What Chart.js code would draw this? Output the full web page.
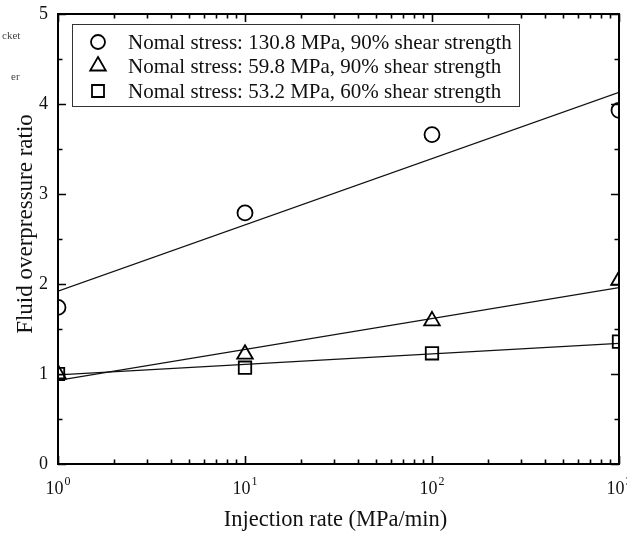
<!DOCTYPE html>
<html>
<head>
<meta charset="utf-8">
<script src="https://cdn.jsdelivr.net/npm/chart.js@4.4.1/dist/chart.umd.min.js"></script>
<style>
  html, body { margin: 0; padding: 0; background: #fff; overflow: hidden; }
  #wrap { position: relative; width: 660px; height: 534px; }
  .frag { position: absolute; font-family: "Liberation Serif", serif; font-size: 11px; color: #444; }
</style>
</head>
<body>
<div id="wrap">
  <canvas id="c" width="660" height="534"></canvas>
  <div class="frag" style="left:2px; top:29px;">cket</div>
  <div class="frag" style="left:11px; top:70px;">er</div>
</div>
<script>
// ---- data ----
const injectionRates = [1, 10, 100, 1000];
const seriesLabels = [
  "Nomal stress: 130.8 MPa, 90% shear strength",
  "Nomal stress: 59.8 MPa, 90% shear strength",
  "Nomal stress: 53.2 MPa, 60% shear strength"
];
const circleRatio   = [1.74, 2.79, 3.66, 3.93];
const triangleRatio = [1.00, 1.22, 1.59, 2.04];
const squareRatio   = [1.00, 1.07, 1.23, 1.36];
const fitX = [1, 1000];
const circleFit   = [1.92, 4.13];
const triangleFit = [0.93, 1.96];
const squareFit   = [0.99, 1.34];
const xTickBase = "10";
const xTickExponents = {1: "0", 10: "1", 100: "2", 1000: "3"};
const yMajorTicks = [0, 1, 2, 3, 4, 5];
const yMinorTicks = [0.5, 1.5, 2.5, 3.5, 4.5];
const xMajorTicks = [1, 10, 100, 1000];
const xMinorTicks = [2,3,4,5,6,7,8,9,20,30,40,50,60,70,80,90,200,300,400,500,600,700,800,900];
const xTitle = "Injection rate (MPa/min)";
const yTitle = "Fluid overpressure ratio";

const pts = (xs, ys) => xs.map((x, i) => ({x: x, y: ys[i]}));

const FONT = "Liberation Serif";
const styles = ["circle", "triangle", "rect"];
const radii = [7.5, 9, 8.8];

const markerDs = (data, i) => ({
  label: seriesLabels[i],
  data: data,
  showLine: false,
  pointStyle: styles[i],
  pointRadius: radii[i],
  pointBorderColor: "#000",
  pointBackgroundColor: "rgba(0,0,0,0)",
  pointBorderWidth: 1.8,
  order: 0
});
const lineDs = (data) => ({
  label: "fit",
  data: data,
  showLine: true,
  borderColor: "#111",
  borderWidth: 1.2,
  pointRadius: 0,
  fill: false,
  order: 1
});

const decoPlugin = {
  id: "deco",
  afterDraw(chart) {
    const ctx = chart.ctx;
    const xs = chart.scales.x, ys = chart.scales.y;
    const a = chart.chartArea;
    ctx.save();
    ctx.strokeStyle = "#000";
    ctx.lineWidth = 1.6;
    const tickX = (v, len) => {
      const px = Math.round(xs.getPixelForValue(v)) + 0.5;
      ctx.beginPath();
      ctx.moveTo(px, a.bottom); ctx.lineTo(px, a.bottom - len);
      ctx.moveTo(px, a.top); ctx.lineTo(px, a.top + len);
      ctx.stroke();
    };
    const tickY = (v, len) => {
      const py = Math.round(ys.getPixelForValue(v)) + 0.5;
      ctx.beginPath();
      ctx.moveTo(a.left, py); ctx.lineTo(a.left + len, py);
      ctx.moveTo(a.right, py); ctx.lineTo(a.right - len, py);
      ctx.stroke();
    };
    xMajorTicks.forEach(v => tickX(v, 8));
    xMinorTicks.forEach(v => tickX(v, 4.5));
    yMajorTicks.forEach(v => tickY(v, 8));
    yMinorTicks.forEach(v => tickY(v, 4.5));
    ctx.lineWidth = 2;
    ctx.strokeRect(a.left, a.top, a.right - a.left, a.bottom - a.top);

    // y tick labels
    ctx.fillStyle = "#111";
    ctx.font = "18px '" + FONT + "'";
    ctx.textAlign = "right";
    ctx.textBaseline = "middle";
    yMajorTicks.forEach(v => {
      ctx.fillText(String(v), a.left - 10, ys.getPixelForValue(v));
    });

    // x tick labels with superscripts
    ctx.textBaseline = "alphabetic";
    ctx.textAlign = "left";
    xMajorTicks.forEach(v => {
      const px = xs.getPixelForValue(v);
      ctx.font = "18px '" + FONT + "'";
      const wb = ctx.measureText(xTickBase).width;
      ctx.font = "12px '" + FONT + "'";
      const we = ctx.measureText(xTickExponents[v]).width;
      const x0 = px - (wb + we + 1) / 2;
      ctx.font = "18px '" + FONT + "'";
      ctx.fillText(xTickBase, x0, a.bottom + 30);
      ctx.font = "12px '" + FONT + "'";
      ctx.fillText(xTickExponents[v], x0 + wb + 1, a.bottom + 21);
    });

    // axis titles
    ctx.textAlign = "center";
    ctx.textBaseline = "middle";
    ctx.font = "22.5px '" + FONT + "'";
    ctx.fillText(xTitle, (a.left + a.right) / 2 - 3, 520);
    ctx.save();
    ctx.translate(26, 224);
    ctx.rotate(-Math.PI / 2);
    ctx.font = "23px '" + FONT + "'";
    ctx.fillText(yTitle, 0, 0);
    ctx.restore();

    // legend
    const box = {l: 72, t: 24, r: 519, b: 106};
    ctx.fillStyle = "#fff";
    ctx.fillRect(box.l, box.t, box.r - box.l, box.b - box.t);
    ctx.lineWidth = 1;
    ctx.strokeStyle = "#333";
    ctx.strokeRect(box.l + 0.5, box.t + 0.5, box.r - box.l, box.b - box.t);
    const rowY = [42, 66, 91];
    const mx = 98, tx = 128;
    ctx.font = "21px '" + FONT + "'";
    ctx.textBaseline = "middle";
    ctx.textAlign = "left";
    ctx.fillStyle = "#111";
    ctx.strokeStyle = "#000";
    ctx.lineWidth = 1.8;
    seriesLabels.forEach((lab, i) => {
      const y = rowY[i];
      ctx.beginPath();
      if (i === 0) {
        ctx.arc(mx, y, 7, 0, Math.PI * 2);
      } else if (i === 1) {
        const r = 9;
        ctx.moveTo(mx, y - r);
        ctx.lineTo(mx + r * Math.sin(Math.PI / 3 * 2), y + r * 0.5);
        ctx.lineTo(mx - r * Math.sin(Math.PI / 3 * 2), y + r * 0.5);
        ctx.closePath();
      } else {
        ctx.rect(mx - 6, y - 6, 12, 12);
      }
      ctx.stroke();
      ctx.fillText(lab, tx, y + 1);
    });
    ctx.restore();
  }
};

new Chart(document.getElementById("c"), {
  type: "scatter",
  data: {
    datasets: [
      lineDs(pts(fitX, circleFit)),
      lineDs(pts(fitX, triangleFit)),
      lineDs(pts(fitX, squareFit)),
      markerDs(pts(injectionRates, circleRatio), 0),
      markerDs(pts(injectionRates, triangleRatio), 1),
      markerDs(pts(injectionRates, squareRatio), 2)
    ]
  },
  options: {
    responsive: false,
    animation: false,
    events: [],
    layout: { padding: { top: 14, right: 41, left: 0, bottom: 0 } },
    plugins: { legend: { display: false }, tooltip: { enabled: false } },
    scales: {
      x: {
        type: "logarithmic",
        min: 1, max: 1000,
        grid: { display: false, drawTicks: false },
        border: { display: false },
        afterFit(s) { s.height = 70; },
        ticks: { display: false }
      },
      y: {
        min: 0, max: 5,
        grid: { display: false, drawTicks: false },
        border: { display: false },
        afterFit(s) { s.width = 58; },
        ticks: { display: false, stepSize: 1 }
      }
    }
  },
  plugins: [decoPlugin]
});
</script>
</body>
</html>
